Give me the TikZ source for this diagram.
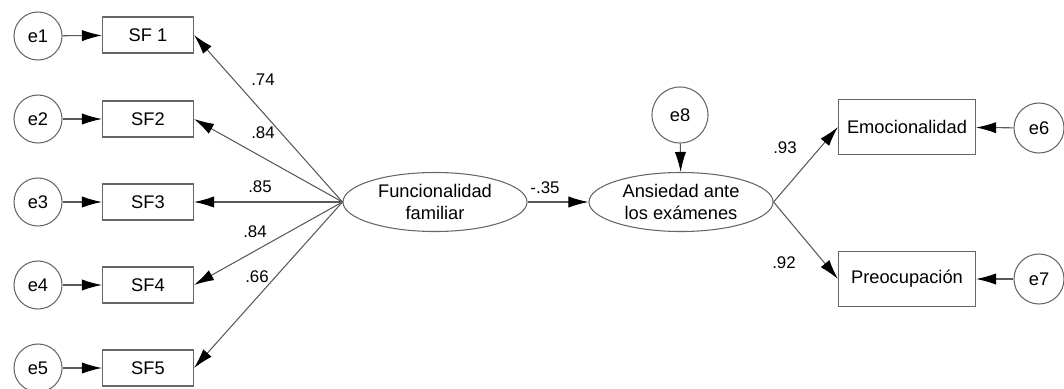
\documentclass[tikz,border=0pt]{standalone}
\usepackage{fontspec}
\setmainfont{Liberation Sans}
\usetikzlibrary{arrows.meta,shapes.geometric}

\begin{document}
\begin{tikzpicture}[>={Latex[length=5mm,width=2.8mm,color=black]},x=0.025cm,y=-0.025cm,line width=0.75pt,
    err/.style={circle,draw=black!60,minimum size=1.2cm,inner sep=0pt,font=\fontsize{13}{15}\selectfont},
    obs/.style={rectangle,draw=black!60,minimum width=2.275cm,minimum height=0.9cm,inner sep=0pt,font=\fontsize{13}{15}\selectfont},
    lat/.style={ellipse,draw=black!60,minimum width=4.6cm,minimum height=1.475cm,inner sep=0pt,align=center,font=\fontsize{13}{15.5}\selectfont},
    load/.style={->,draw=black!65},
    coef/.style={font=\fontsize{12}{14}\selectfont,inner sep=0pt}]
      \useasboundingbox (0,0) rectangle (1064,388);
      % error terms and indicators
      \node[err] (e1) at (38,36) {e1};
      \node[err] (e2) at (38,119) {e2};
      \node[err] (e3) at (38,202) {e3};
      \node[err] (e4) at (38,285) {e4};
      \node[err] (e5) at (38,368) {e5};
      \node[obs] (sf1) at (148,35) {SF 1};
      \node[obs] (sf2) at (148,119) {SF2};
      \node[obs] (sf3) at (148,202) {SF3};
      \node[obs] (sf4) at (148,285) {SF4};
      \node[obs] (sf5) at (148,368) {SF5};
      % latent variables
      \node[lat] (func) at (435,202) {Funcionalidad\\familiar};
      \node[lat] (ansi) at (681,202) {Ansiedad ante\\los exámenes};
      \node[err,minimum size=1.4cm] (e8) at (680,115) {e8};
      \node[obs,minimum width=3.425cm,minimum height=1.375cm] (emo) at (907,127) {Emocionalidad};
      \node[obs,minimum width=3.425cm,minimum height=1.375cm] (preo) at (907,279) {Preocupación};
      \node[err,minimum size=1.25cm] (e6) at (1039,128) {e6};
      \node[err,minimum size=1.25cm] (e7) at (1039,279) {e7};
      % paths
      \draw[load] (e1) -- (sf1);
      \draw[load] (e2) -- (sf2);
      \draw[load] (e3) -- (sf3);
      \draw[load] (e4) -- (sf4);
      \draw[load] (e5) -- (sf5);
      \draw[load] (func.west) -- (sf1.east);
      \draw[load] (func.west) -- (sf2.east);
      \draw[load] (func.west) -- (sf3.east);
      \draw[load] (func.west) -- (sf4.east);
      \draw[load] (func.west) -- (sf5.east);
      \draw[load] (func) -- (ansi);
      \draw[load] (e8) -- (ansi);
      \draw[load] (ansi.east) -- (emo.west);
      \draw[load] (ansi.east) -- (preo.west);
      \draw[load] (e6) -- (emo);
      \draw[load] (e7) -- (preo);
      % coefficients
      \node[coef] at (263,80) {.74};
      \node[coef] at (263,133) {.84};
      \node[coef] at (260,187) {.85};
      \node[coef] at (255,232) {.84};
      \node[coef] at (257,277) {.66};
      \node[coef] at (545,188) {-.35};
      \node[coef] at (785,148) {.93};
      \node[coef] at (784,263) {.92};
    \end{tikzpicture}
\end{document}
